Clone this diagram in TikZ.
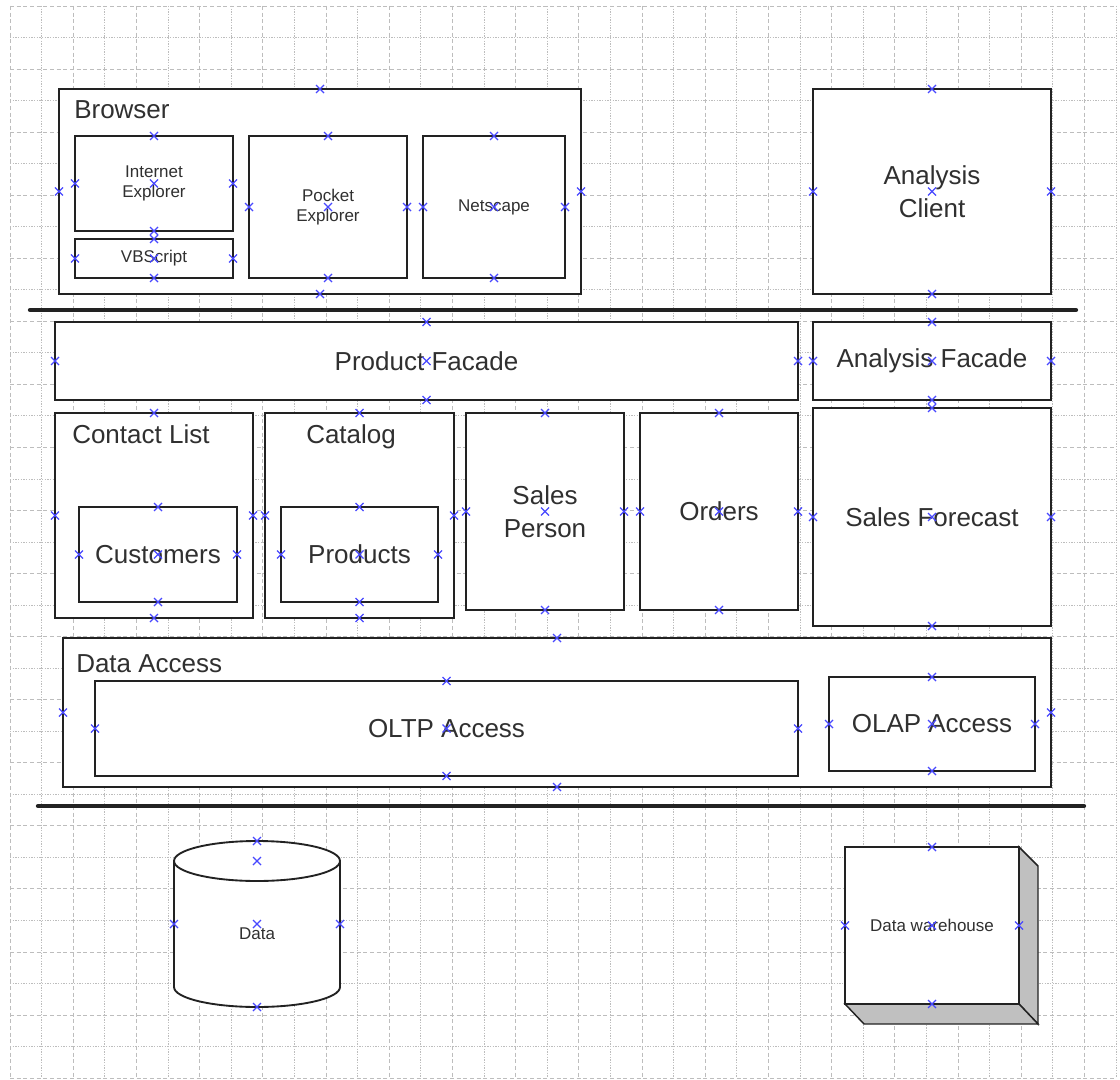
\documentclass[tikz,border=0pt]{standalone}
\usepackage{fontspec}
\setmainfont{Liberation Sans}
\usetikzlibrary{calc}
\definecolor{markblue}{HTML}{4848FF}
\definecolor{sideface}{HTML}{C0C0C0}
\definecolor{inkc}{HTML}{222222}
\definecolor{txtc}{HTML}{303030}
\newcommand\bigf{\fontsize{19.5}{24.5}\selectfont}
\newcommand\smallf{\fontsize{12.75}{15}\selectfont}
\newcommand\xmk[1]{\draw[xm] #1 +(-4,-4) -- +(4,4) +(-4,4) -- +(4,-4);}
\newcommand\allmk[1]{\foreach \a in {north,south,east,west,center}{\xmk{(#1.\a)}}}
\newcommand\sidemk[1]{\foreach \a in {north,south,east,west}{\xmk{(#1.\a)}}}
% \bx{name}{style}{x1}{y1}{x2}{y2}{text}
\newcommand\bx[7]{\node[#2, minimum width={(#5-#3)*0.75pt}, minimum height={(#6-#4)*0.75pt}] (#1) at ({(#3+#5)/2},{(#4+#6)/2}) {#7};}
\tikzset{
  x=0.75pt, y=-0.75pt,
  gridA/.style={draw=black!26, line width=0.6pt, dash pattern=on 3pt off 2pt},
  gridB/.style={draw=black!26, line width=0.6pt, dash pattern=on 1pt off 1pt},
  box/.style={draw=inkc, line width=1.4pt, fill=white, inner sep=0pt, outer sep=0pt, align=center, text=txtc},
  bigbox/.style={box, font=\bigf},
  smallbox/.style={box, font=\smallf},
  title/.style={anchor=base west, inner sep=0pt, text=txtc, font=\bigf},
  sepline/.style={draw=inkc, line width=3.2pt, line cap=round},
  xm/.style={draw=markblue, line width=1pt},
}
\begin{document}
\begin{tikzpicture}
\useasboundingbox[fill=white] (0,0) rectangle (1120,1080);
% grid
\foreach \i in {0,...,35}{
  \pgfmathsetmacro\gx{10+31.6*\i}
  \ifodd\i \draw[gridB] (\gx,6) -- (\gx,1078); \else \draw[gridA] (\gx,6) -- (\gx,1078); \fi
}
\foreach \j in {0,...,34}{
  \pgfmathsetmacro\gy{6+31.53*\j}
  \ifodd\j \draw[gridB] (10,\gy) -- (1116,\gy); \else \draw[gridA] (10,\gy) -- (1116,\gy); \fi
}
% Browser tier
\bx{browser}{box}{59}{89}{581}{294}{}
\node[title] (browserT) at (74,119) {Browser};
\bx{ie}{smallbox}{75}{136}{233}{231}{Internet\\Explorer}
\bx{vbs}{smallbox}{75}{239}{233}{278}{VBScript}
\bx{pocket}{smallbox}{249}{136}{407}{278}{Pocket\\Explorer}
\bx{netscape}{smallbox}{423}{136}{565}{278}{Netscape}
\bx{aclient}{bigbox}{813}{89}{1051}{294}{Analysis\\Client}
% separator 1
\coordinate (s1a) at (30,310);
\coordinate (s1b) at (1076,310);
\draw[sepline] (s1a) -- (s1b);
% middle tier
\bx{pfacade}{bigbox}{55}{322}{798}{400}{Product Facade}
\bx{afacade}{bigbox}{813}{322}{1051}{400}{Analysis Facade}
\bx{contact}{box}{55}{413}{253}{618}{}
\node[title] (contactT) at (72,443) {Contact List};
\bx{cust}{bigbox}{79}{507}{237}{602}{Customers}
\bx{catalog}{box}{265}{413}{454}{618}{}
\node[title] (catalogT) at (306,443) {Catalog};
\bx{prod}{bigbox}{281}{507}{438}{602}{Products}
\bx{sales}{bigbox}{466}{413}{624}{610}{Sales\\Person}
\bx{orders}{bigbox}{640}{413}{798}{610}{Orders}
\bx{forecast}{bigbox}{813}{408}{1051}{626}{Sales Forecast}
% data access
\bx{daccess}{box}{63}{638}{1051}{787}{}
\node[title] (daccessT) at (76,672) {Data Access};
\bx{oltp}{bigbox}{95}{681}{798}{776}{OLTP Access}
\bx{olap}{bigbox}{829}{677}{1035}{771}{OLAP Access}
% separator 2
\coordinate (s2a) at (38,806);
\coordinate (s2b) at (1084,806);
\draw[sepline] (s2a) -- (s2b);
% cylinder
\fill[white] (174,861) -- (174,987) arc[start angle=180, end angle=360, x radius=62.25pt, y radius=15pt] -- (340,861) -- cycle;
\draw[draw=inkc, line width=1.4pt] (174,861) -- (174,987) arc[start angle=180, end angle=360, x radius=62.25pt, y radius=15pt] -- (340,861);
\draw[draw=inkc, line width=1.4pt, fill=white] (257,861) ellipse [x radius=62.25pt, y radius=15pt];
\node[inner sep=0pt, text=txtc, font=\smallf] (data) at (257,934) {Data};
% data warehouse
\draw[draw=inkc, line width=1.1pt, fill=sideface] (1019,847) -- (1038,866) -- (1038,1024) -- (1019,1004) -- cycle;
\draw[draw=inkc, line width=1.1pt, fill=sideface] (845,1004) -- (864,1024) -- (1038,1024) -- (1019,1004) -- cycle;
\bx{whouse}{smallbox}{845}{847}{1019}{1004}{Data warehouse}
% connection marks
\sidemk{browser}
\allmk{ie} \allmk{vbs} \allmk{pocket} \allmk{netscape} \allmk{aclient}
\allmk{pfacade} \allmk{afacade}
\sidemk{contact} \sidemk{catalog}
\allmk{cust} \allmk{prod} \allmk{sales} \allmk{orders} \allmk{forecast}
\sidemk{daccess}
\allmk{oltp} \allmk{olap}
\allmk{whouse}
\foreach \p in {(257,841),(257,861),(257,1007),(174,924),(340,924),(257,924)}{\xmk{\p}}
\end{tikzpicture}
\end{document}
